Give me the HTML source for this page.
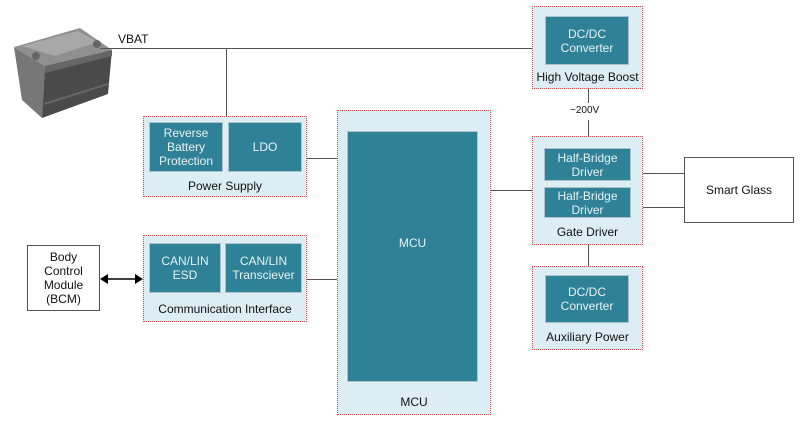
<!DOCTYPE html>
<html><head><style>
body{margin:0;background:#fff;font-family:"Liberation Sans",sans-serif;}
.c{position:absolute;background:#dcedf3;border:1px dotted #e05050;box-sizing:border-box;}
.b{position:absolute;background:#2e8196;border:1px solid #a9c3cc;box-sizing:border-box;color:#e8f2f5;font-size:12px;display:flex;align-items:center;justify-content:center;text-align:center;line-height:14px;}
.l{position:absolute;font-size:12px;color:#111;text-align:center;}
.h{position:absolute;background:#555;height:1px;}
.v{position:absolute;background:#555;width:1px;}
</style></head><body>
<div style="position:relative;width:800px;height:421px;overflow:hidden">
<svg style="position:absolute;left:0;top:0" width="800" height="421">
<polygon points="14,47 45,66 42,118 22,100" fill="#777"/>
<polygon points="45,66 112,50 108,94 42,118" fill="#4a4a4a"/>
<polygon points="14,47 80,28 112,50 45,66" fill="#8f8f8f"/>
<polygon points="22,46 78,31 98,42 55,56" fill="#a8a8a8"/>
<polygon points="45,66 112,50 112,56 45,73" fill="#666"/>
<line x1="44" y1="104" x2="108" y2="84" stroke="#666" stroke-width="2"/>
<circle cx="36" cy="56" r="4" fill="#666"/><circle cx="97" cy="44" r="4" fill="#666"/>
<polygon points="100,279 108,274 108,284" fill="#000"/>
<polygon points="143,279 135,274 135,284" fill="#000"/>
<line x1="108" y1="279" x2="135" y2="279" stroke="#000" stroke-width="1.5"/>
</svg>
<div class="l" style="left:118px;top:32px">VBAT</div>
<div class="h" style="left:100px;top:48px;width:432px"></div>
<div class="v" style="left:226px;top:48px;height:68px"></div>
<div class="h" style="left:307px;top:158px;width:30px"></div>
<div class="h" style="left:307px;top:279px;width:30px"></div>
<div class="h" style="left:491px;top:190px;width:41px"></div>
<div class="h" style="left:643px;top:173px;width:41px"></div>
<div class="h" style="left:643px;top:207px;width:41px"></div>
<div class="v" style="left:588px;top:89px;height:14px"></div>
<div class="v" style="left:588px;top:120px;height:16px"></div>
<div class="v" style="left:588px;top:245px;height:21px"></div>
<div class="l" style="left:570px;top:105px;font-size:10px">~200V</div>

<div class="c" style="left:143px;top:116px;width:164px;height:81px"></div>
<div class="b" style="left:149px;top:122px;width:74px;height:50px">Reverse<br>Battery<br>Protection</div>
<div class="b" style="left:228px;top:122px;width:74px;height:50px">LDO</div>
<div class="l" style="left:143px;top:179px;width:164px">Power Supply</div>

<div class="c" style="left:143px;top:235px;width:164px;height:87px"></div>
<div class="b" style="left:149px;top:243px;width:72px;height:50px">CAN/LIN<br>ESD</div>
<div class="b" style="left:225px;top:243px;width:77px;height:50px">CAN/LIN<br>Transciever</div>
<div class="l" style="left:143px;top:302px;width:164px">Communication Interface</div>

<div style="position:absolute;left:27px;top:245px;width:73px;height:66px;border:1px solid #555;box-sizing:border-box;font-size:12px;text-align:center;line-height:14px;padding-top:4px;color:#111">Body<br>Control<br>Module<br>(BCM)</div>

<div class="c" style="left:337px;top:110px;width:154px;height:305px"></div>
<div class="b" style="left:347px;top:131px;width:131px;height:251px;align-items:flex-start;padding-top:104px">MCU</div>
<div class="l" style="left:337px;top:395px;width:154px">MCU</div>

<div class="c" style="left:532px;top:6px;width:111px;height:83px"></div>
<div class="b" style="left:545px;top:16px;width:84px;height:49px">DC/DC<br>Converter</div>
<div class="l" style="left:532px;top:70px;width:111px">High Voltage Boost</div>

<div class="c" style="left:532px;top:136px;width:111px;height:109px"></div>
<div class="b" style="left:544px;top:148px;width:87px;height:33px">Half-Bridge<br>Driver</div>
<div class="b" style="left:544px;top:187px;width:87px;height:31px">Half-Bridge<br>Driver</div>
<div class="l" style="left:532px;top:225px;width:111px">Gate Driver</div>

<div class="c" style="left:532px;top:266px;width:111px;height:84px"></div>
<div class="b" style="left:545px;top:275px;width:84px;height:48px">DC/DC<br>Converter</div>
<div class="l" style="left:532px;top:330px;width:111px">Auxiliary Power</div>

<div style="position:absolute;left:684px;top:157px;width:110px;height:66px;border:1px solid #555;box-sizing:border-box;font-size:12px;display:flex;align-items:center;justify-content:center;color:#111">Smart Glass</div>
</div>
</body></html>
